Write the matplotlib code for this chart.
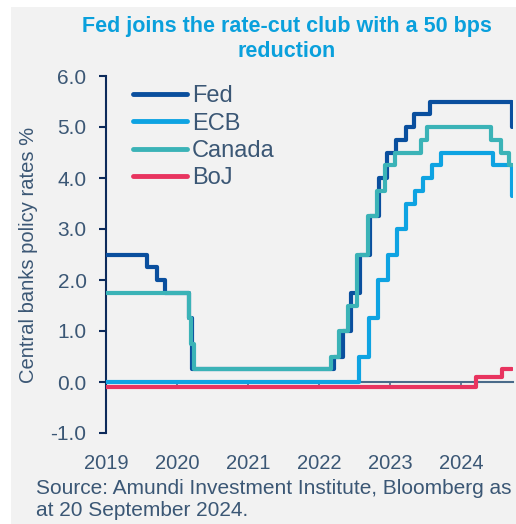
import matplotlib
matplotlib.use("Agg")
import matplotlib.pyplot as plt
import pandas as pd
from matplotlib.patches import Rectangle

plt.rcParams['font.family'] = ['Liberation Sans', 'DejaVu Sans']

end_date = "2024-09-20"

fed_dates = ["2019-01-01", "2019-08-01", "2019-09-19", "2019-10-31", "2020-03-03", "2020-03-16",
             "2022-03-17", "2022-05-05", "2022-06-16", "2022-07-28", "2022-09-22", "2022-11-03",
             "2022-12-15", "2023-02-02", "2023-03-23", "2023-05-04", "2023-07-27", "2024-09-19"]
fed_vals = [2.5, 2.25, 2.0, 1.75, 1.25, 0.25,
            0.5, 1.0, 1.75, 2.5, 3.25, 4.0,
            4.5, 4.75, 5.0, 5.25, 5.5, 5.0]

ecb_dates = ["2019-01-01", "2022-07-27", "2022-09-14", "2022-11-02", "2022-12-21", "2023-02-08",
             "2023-03-22", "2023-05-10", "2023-06-21", "2023-08-02", "2023-09-20", "2024-06-12",
             "2024-09-18"]
ecb_vals = [0.0, 0.5, 1.25, 2.0, 2.5, 3.0,
            3.5, 3.75, 4.0, 4.25, 4.5, 4.25,
            3.65]

can_dates = ["2019-01-01", "2020-03-04", "2020-03-13", "2020-03-27", "2022-03-02", "2022-04-13",
             "2022-06-01", "2022-07-13", "2022-09-07", "2022-10-26", "2022-12-07", "2023-01-25",
             "2023-06-07", "2023-07-12", "2024-06-05", "2024-07-24", "2024-09-04"]
can_vals = [1.75, 1.25, 0.75, 0.25, 0.5, 1.0,
            1.5, 2.5, 3.25, 3.75, 4.25, 4.5,
            4.75, 5.0, 4.75, 4.5, 4.25]

boj_dates = ["2019-01-01", "2024-03-19", "2024-07-31"]
boj_vals = [-0.1, 0.1, 0.25]

series = [
    ("Fed", fed_dates, fed_vals, "#0a4f9e"),
    ("ECB", ecb_dates, ecb_vals, "#0ea3e2"),
    ("Canada", can_dates, can_vals, "#3bb3b7"),
    ("BoJ", boj_dates, boj_vals, "#e8345f"),
]

year_ticks = ["2019", "2020", "2021", "2022", "2023", "2024"]
y_ticks = [-1.0, 0.0, 1.0, 2.0, 3.0, 4.0, 5.0, 6.0]

title = "Fed joins the rate-cut club with a 50 bps\nreduction"
source = "Source: Amundi Investment Institute, Bloomberg as\nat 20 September 2024."

W, H = 516, 524
fig = plt.figure(figsize=(W / 100, H / 100), dpi=100, facecolor="white")
fig.patches.append(Rectangle((11 / W, 0), 1 - 11 / W, 1 - 7 / H, transform=fig.transFigure,
                             facecolor="#f2f2f2", edgecolor="none", zorder=-10))

ax = fig.add_axes([106 / W, 1 - 433 / H, (513 - 106) / W, (433 - 76) / H])
ax.set_facecolor("none")

txt_col = "#3b5775"

for name, d, v, c in series:
    dd = pd.to_datetime(d + [end_date])
    vv = v + [v[-1]]
    ax.step(dd, vv, where="post", color=c, lw=3.0, label=name,
            solid_capstyle="round", solid_joinstyle="round", zorder=3)

ax.set_ylim(-1.0, 6.0)
ax.set_xlim(pd.Timestamp("2019-01-01"), pd.Timestamp("2024-09-24"))
ax.set_yticks(y_ticks)
ax.set_yticklabels([f"{t:.1f}" for t in y_ticks])

for s in ["top", "right", "bottom"]:
    ax.spines[s].set_visible(False)
ax.spines["left"].set_color("#0d2b5b")
ax.spines["left"].set_linewidth(1.5)
ax.tick_params(axis="y", colors="#0d2b5b", labelcolor=txt_col, labelsize=15, length=5, width=1.5, pad=9)

xt = [pd.Timestamp(y + "-01-01") for y in year_ticks]
ax.set_xticks(xt)
ax.set_xticklabels(year_ticks)
ax.tick_params(axis="x", length=0, labelsize=14.5, labelcolor=txt_col, pad=15)

sec = ax.secondary_xaxis(1 / 7)
sec.set_xticks(xt)
sec.set_xticklabels([])
sec.spines["bottom"].set_color("#4a6b8a")
sec.spines["bottom"].set_linewidth(1.5)
sec.spines["top"].set_visible(False)
sec.tick_params(axis="x", direction="out", length=4, width=1.2, color="#4a6b8a", labelbottom=False)
sec.set_zorder(1)

ax.set_ylabel("Central banks policy rates %", fontsize=14.5, color=txt_col, labelpad=9)

leg = ax.legend(loc="upper left", bbox_to_anchor=(0.043, 1.0), frameon=False, fontsize=17,
                labelcolor=txt_col, handlelength=2.3, handletextpad=0.2, labelspacing=0.22,
                borderaxespad=0)
for lh in leg.get_lines():
    lh.set_linewidth(3.5)

fig.text(287 / W, 1 - 16 / H, title, ha="center", va="top", fontsize=15.5, fontweight="bold",
         color="#0aa0dc", linespacing=1.28)
fig.text(36 / W, 1 - 479 / H, source, ha="left", va="top", fontsize=15, color=txt_col,
         linespacing=1.22)

fig.savefig("out.png", dpi=100, facecolor="white")
